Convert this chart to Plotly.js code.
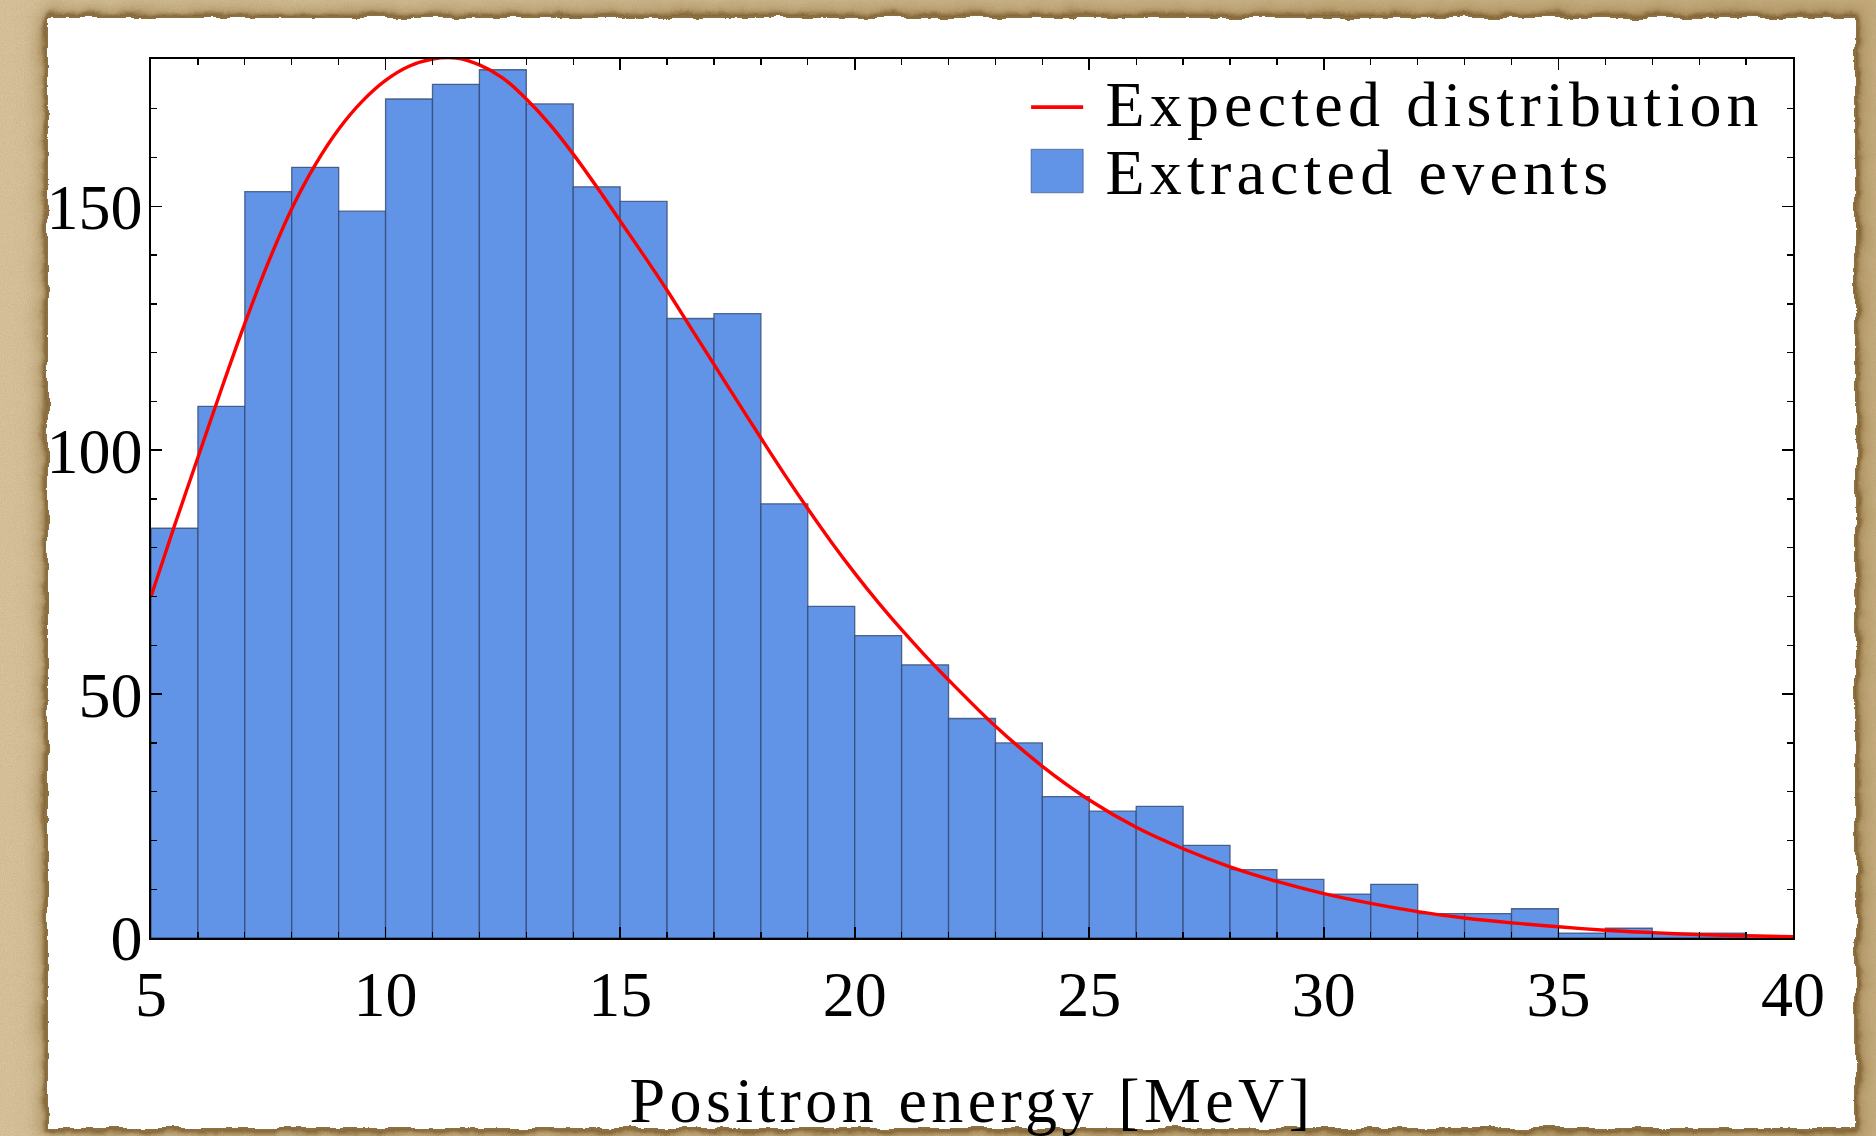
<!DOCTYPE html>
<html>
<head>
<meta charset="utf-8">
<script src="https://cdn.plot.ly/plotly-3.0.1.min.js"></script>
<style>
  html, body { margin:0; padding:0; width:1876px; height:1136px; overflow:hidden; }
  body { background:#cdb48a; position:relative; }
  #paper { position:absolute; left:0; top:0; width:1876px; height:1136px; }
  #card {
    position:absolute; left:48px; top:18px; width:1807px; height:1110px; background:#fff;
    box-shadow: 0 0 0 2px #8d6f3f, 0 0 5px 4px rgba(110,80,35,0.9), 0 0 16px 10px rgba(150,118,66,0.55);
    filter:url(#rough);
  }
  #chart { position:absolute; left:0; top:0; width:1876px; height:1136px; }
  #chart text.annotation-text { letter-spacing:5.2px; }
  #chart text.xtitle { letter-spacing:4.4px; }
</style>
</head>
<body>
<svg id="paper" width="1876" height="1136">
  <defs>
    <filter id="grain" x="0" y="0" width="100%" height="100%">
      <feTurbulence type="fractalNoise" baseFrequency="0.9" numOctaves="3" seed="4" result="n"/>
      <feColorMatrix type="matrix" values="0 0 0 0 0.45  0 0 0 0 0.33  0 0 0 0 0.15  0 0 0 0.55 -0.05"/>
    </filter>
    <filter id="rough" x="-2%" y="-3%" width="104%" height="106%">
      <feTurbulence type="fractalNoise" baseFrequency="0.035" numOctaves="4" seed="7" result="t"/>
      <feDisplacementMap in="SourceGraphic" in2="t" scale="9" xChannelSelector="R" yChannelSelector="G"/>
    </filter>
    <linearGradient id="lg" x1="0" y1="0" x2="1" y2="0">
      <stop offset="0" stop-color="#dcc8a4"/>
      <stop offset="0.5" stop-color="#d2bb93"/>
      <stop offset="1" stop-color="#c9b083"/>
    </linearGradient>
  </defs>
  <rect width="1876" height="1136" fill="url(#lg)"/>
  <rect width="1876" height="1136" filter="url(#grain)"/>
</svg>
<div id="card"></div>
<div id="chart"></div>
<script>
// ---- data ----
// histogram bins: left edges [MeV], width 1 MeV
const binStart = [5,6,7,8,9,10,11,12,13,14,15,16,17,18,19,20,21,22,23,24,25,26,27,28,29,30,31,32,33,34,35,36,37,38,39];
const binWidth = 1;
const extractedEvents = [84,109,153,158,149,172,175,178,171,154,151,127,128,89,68,62,56,45,40,29,26,27,19,14,12,9,11,5,5,6,1,2,1,1,0];

// expected distribution
const curveEnergy = [5,5.5,6,6.5,7,7.5,8,8.5,9,9.5,10,10.5,11,11.5,12,12.5,13,13.5,14,14.5,15,15.5,16,16.5,17,17.5,18,18.5,19,19.5,20,20.5,21,21.5,22,23,24,25,26,27,28,29,30,31,32,33,34,35,36,37,38,39,40];
const curveExpected = [70,84.5,98.5,112.5,126,138.5,149.5,158.5,165.8,171.5,175.8,178.7,180.2,180.4,179,176.3,172,166.8,160.7,154,147,140,132.8,125.2,117.6,110,102.5,95.1,88,81.2,74.8,68.8,63.2,57.9,52.9,43.4,35.2,28.3,22.7,18.3,14.6,11.6,9.1,7.1,5.4,4.1,3.1,2.3,1.6,1.1,0.7,0.45,0.25];

const xTickVals = [5,10,15,20,25,30,35,40];
const yTickVals = [0,50,100,150];
const xTitle = 'Positron energy [MeV]';
const legendNames = ['Expected distribution', 'Extracted events'];

// ---- chart ----
const FONT = 'Liberation Serif, Times New Roman, serif';
const FS = 64;
const LEGEND_LS = 5.2;   // letter-spacing applied by CSS to the legend texts
const barColor = '#6193e6';
const lineColor = '#ff0000';

const traces = [
  {
    type:'bar', name:legendNames[1],
    x:binStart, y:extractedEvents, width:binWidth, offset:0,
    marker:{color:barColor, line:{color:'rgba(50,72,112,0.8)', width:1.3}},
    showlegend:false, hoverinfo:'x+y'
  },
  {
    type:'scatter', mode:'lines', name:legendNames[0],
    x:curveEnergy, y:curveExpected,
    line:{color:lineColor, width:3.4, shape:'spline', smoothing:0.9},
    showlegend:false
  }
];

const axisCommon = {
  showgrid:false, zeroline:false, showline:true, linecolor:'#000', linewidth:1.6,
  mirror:'allticks', ticks:'inside', ticklen:11, tickwidth:1.6, tickcolor:'#000',
  tickfont:{family:FONT, size:FS, color:'#000'}, automargin:false
};

const legendRowsY = [0.948, 0.8706];

const layout = {
  width:1876, height:1136,
  paper_bgcolor:'rgba(0,0,0,0)', plot_bgcolor:'#ffffff',
  margin:{l:151, r:83, t:59, b:198, pad:0},
  font:{family:FONT, size:FS, color:'#000'},
  bargap:0,
  showlegend:false,
  xaxis:Object.assign({}, axisCommon, {
    range:[5,40], tickmode:'array', tickvals:xTickVals, ticktext:xTickVals.map(String),
    ticklabelstandoff:0,
    minor:{dtick:1, tick0:5, ticks:'inside', ticklen:6, tickwidth:1.3, tickcolor:'#000', showgrid:false},
    title:{text:xTitle, standoff:56, font:{family:FONT, size:FS, color:'#000'}}
  }),
  yaxis:Object.assign({}, axisCommon, {
    range:[0,180.2], tickmode:'array', tickvals:yTickVals, ticktext:yTickVals.map(String),
    ticklabelstandoff:-6,
    minor:{dtick:10, tick0:0, ticks:'inside', ticklen:6, tickwidth:1.3, tickcolor:'#000', showgrid:false}
  }),
  shapes:[
    {type:'line', xref:'paper', yref:'paper', x0:0.536, x1:0.5677, y0:0.9452, y1:0.9452,
     line:{color:lineColor, width:3.6}},
    {type:'rect', xref:'paper', yref:'paper', x0:0.536, x1:0.5677, y0:0.8478, y1:0.8973,
     fillcolor:barColor, line:{color:'rgba(50,72,112,0.6)', width:1}}
  ],
  annotations: legendNames.map((name, i) => ({
    xref:'paper', yref:'paper', x:0.5799, y:legendRowsY[i], xanchor:'left', yanchor:'middle',
    xshift: name.length * LEGEND_LS / 2, showarrow:false,
    text:name, font:{family:FONT, size:FS, color:'#000'}
  }))
};

Plotly.newPlot('chart', traces, layout, {displayModeBar:false, staticPlot:true});
</script>
</body>
</html>
